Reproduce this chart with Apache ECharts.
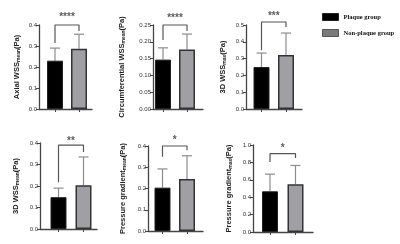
<!DOCTYPE html>
<html>
<head>
<meta charset="utf-8">
<script src="https://cdn.jsdelivr.net/npm/echarts@6/dist/echarts.min.js"></script>
<style>
  html, body { margin: 0; padding: 0; background: #fff; }
  #chart { width: 400px; height: 244px; }
</style>
</head>
<body>
<div id="chart"></div>
<script>
  // panel titles: main text, subscript
  const nameMain = ['Axial WSS', 'Circumferential WSS', '3D WSS', '3D WSS', 'Pressure gradient', 'Pressure gradient'];
  const nameSub = ['mean', 'mean', 'max', 'mean', 'mean', 'max'];
  const groups = ['Plaque group', 'Non-plaque group'];

  // means and top of error bar (mean + SD)
  const plaqueMean = [0.23, 0.147, 0.25, 0.148, 0.204, 0.468];
  const plaqueTop = [0.29, 0.182, 0.333, 0.19, 0.292, 0.665];
  const nonMean = [0.287, 0.177, 0.322, 0.203, 0.245, 0.548];
  const nonTop = [0.356, 0.223, 0.452, 0.335, 0.354, 0.765];

  // significance brackets
  const stars = ['****', '****', '***', '**', '*', '*'];
  const bracketTop = [0.4, 0.25, 0.518, 0.39, 0.4, 0.9];
  const bracketLeft = [0.314, 0.205, 0.35, 0.218, 0.35, 0.805];
  const bracketRight = [0.371, 0.232, 0.488, 0.358, 0.38, 0.85];
  const starY = [0.435, 0.27, 0.555, 0.41, 0.425, 0.96];

  // y axis ticks
  const yMax = [0.4, 0.25, 0.5, 0.4, 0.4, 1.0];
  const yStep = [0.1, 0.05, 0.1, 0.1, 0.1, 0.2];
  const yDecimals = [1, 2, 1, 1, 1, 1];

  // layout (pixels)
  const grids = [
    {left: 39, top: 25, width: 53, height: 84},
    {left: 153, top: 25, width: 50, height: 84},
    {left: 246, top: 25, width: 56, height: 84},
    {left: 40, top: 143, width: 57, height: 86},
    {left: 148, top: 146, width: 55, height: 85},
    {left: 253, top: 145, width: 60, height: 87}
  ];
  const barOffset = [16, 10, 15.5, 18.5, 14.5, 17];
  const barSpacing = [24, 24, 24.5, 25, 24.5, 25.5];
  const nameGaps = [18, 27, 19, 20, 21, 20];

  const font = 'Liberation Sans, Arial, sans-serif';
  const xAxes = [], yAxes = [], series = [];

  function errorBar(params, api) {
    const p0 = api.coord([api.value(0), api.value(1)]);
    const p1 = api.coord([api.value(0), api.value(2)]);
    const st = {stroke: '#8c8c8c', lineWidth: 1.2};
    return {
      type: 'group',
      children: [
        {type: 'line', shape: {x1: p0[0], y1: p0[1], x2: p1[0], y2: p1[1]}, style: st},
        {type: 'line', shape: {x1: p1[0] - 5, y1: p1[1], x2: p1[0] + 5, y2: p1[1]}, style: st}
      ]
    };
  }

  for (let i = 0; i < 6; i++) {
    const g = grids[i];
    xAxes.push({
      type: 'value', gridIndex: i,
      min: -barOffset[i] / barSpacing[i],
      max: (g.width - barOffset[i]) / barSpacing[i],
      axisLine: {show: true, onZero: false, lineStyle: {color: '#444', width: 1.3}},
      axisTick: {show: true, customValues: [0, 1], length: 3, lineStyle: {color: '#444', width: 1}},
      axisLabel: {show: false},
      splitLine: {show: false}
    });
    yAxes.push({
      type: 'value', gridIndex: i, min: 0, max: yMax[i], interval: yStep[i],
      name: '{a|' + nameMain[i] + '}{s|' + nameSub[i] + '}{a|(Pa)}',
      nameLocation: 'middle', nameRotate: 90, nameGap: nameGaps[i],
      nameTextStyle: {
        rich: {
          a: {fontSize: 7.5, fontWeight: 'bold', fontFamily: font, color: '#222'},
          s: {fontSize: 5, fontWeight: 'bold', fontFamily: font, color: '#222', verticalAlign: 'bottom'}
        }
      },
      axisLine: {show: true, onZero: false, lineStyle: {color: '#444', width: 1.3}},
      axisTick: {show: true, length: 3, lineStyle: {color: '#444', width: 1}},
      axisLabel: {
        fontSize: 6, fontFamily: font, color: '#333', margin: 2,
        formatter: v => v.toFixed(yDecimals[i])
      },
      splitLine: {show: false}
    });
    series.push({
      name: groups[0], type: 'bar', xAxisIndex: i, yAxisIndex: i,
      barWidth: 16, barGap: '-100%',
      itemStyle: {color: '#000', borderColor: '#222', borderWidth: 1},
      data: [[0, plaqueMean[i]]]
    });
    series.push({
      name: groups[1], type: 'bar', xAxisIndex: i, yAxisIndex: i,
      barWidth: 16, barGap: '-100%',
      itemStyle: {color: '#a0a0a4', borderColor: '#333', borderWidth: 1.5},
      data: [[1, nonMean[i]]]
    });
    series.push({
      type: 'custom', xAxisIndex: i, yAxisIndex: i, z: 1,
      renderItem: errorBar,
      data: [[0, plaqueMean[i], plaqueTop[i]], [1, nonMean[i], nonTop[i]]]
    });
    series.push({
      type: 'line', xAxisIndex: i, yAxisIndex: i, symbol: 'none', clip: false,
      lineStyle: {color: '#555', width: 1.2},
      data: [[0, bracketLeft[i]], [0, bracketTop[i]], [1, bracketTop[i]], [1, bracketRight[i]]]
    });
    series.push({
      type: 'scatter', xAxisIndex: i, yAxisIndex: i, symbolSize: 0, clip: false,
      label: {show: true, position: 'inside', formatter: stars[i], fontSize: 10, fontWeight: 'bold', color: '#333', fontFamily: font},
      data: [[0.5, starY[i]]]
    });
  }

  const chart = echarts.init(document.getElementById('chart'));
  chart.setOption({
    animation: false,
    legend: {
      data: [
        {name: groups[0], itemStyle: {color: '#000', borderColor: '#222', borderWidth: 1}},
        {name: groups[1], itemStyle: {color: '#7a7a7a', borderColor: '#555', borderWidth: 1}}
      ],
      orient: 'vertical', left: 317, top: 8,
      icon: 'rect', itemWidth: 16, itemHeight: 7, itemGap: 8, itemTextGap: 4,
      textStyle: {fontFamily: 'Liberation Serif, Times New Roman, serif', fontWeight: 'bold', fontSize: 6.5, color: '#111'}
    },
    grid: grids,
    xAxis: xAxes,
    yAxis: yAxes,
    series: series
  });
</script>
</body>
</html>
